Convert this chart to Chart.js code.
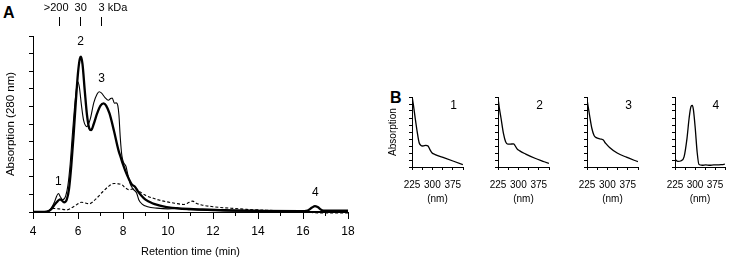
<!DOCTYPE html>
<html><head><meta charset="utf-8">
<script src="https://cdn.jsdelivr.net/npm/chart.js@4.4.1/dist/chart.umd.min.js"></script>
<style>
html,body{margin:0;padding:0;background:#fff}
body{width:734px;height:262px;overflow:hidden;position:relative;font-family:"Liberation Sans",Arial,sans-serif}
canvas{position:absolute}
.panel{position:absolute;font-weight:bold;font-size:16px;line-height:18px;color:#000}
</style></head>
<body>
<div class="panel" style="left:3px;top:4px">A</div>
<div class="panel" style="left:390px;top:89px">B</div>
<canvas id="main" width="370" height="262" style="left:0;top:0;width:370px;height:262px"></canvas>
<canvas id="s1" width="85" height="120" style="left:387px;top:85px;width:85px;height:120px"></canvas>
<canvas id="s2" width="85" height="120" style="left:473px;top:85px;width:85px;height:120px"></canvas>
<canvas id="s3" width="85" height="120" style="left:562px;top:85px;width:85px;height:120px"></canvas>
<canvas id="s4" width="84" height="120" style="left:650px;top:85px;width:84px;height:120px"></canvas>
<script>
// ---------- DATA: chromatogram (A) ----------
const thickTime = [4.0,4.6,4.8,4.95,5.1,5.2,5.28,5.38,5.5,5.6,5.7,5.8,5.9,6.0,6.08,6.13,6.2,6.3,6.4,6.5,6.58,6.7,6.85,7.0,7.14,7.25,7.4,7.6,7.8,7.9,8.0,8.1,8.25,8.4,8.53,8.65,8.8,9.0,9.3,9.6,9.94,10.5,11.4,12.5,14.0,15.9,16.2,16.4,16.53,16.65,16.85,17.0,18.0];
const thickAbs  = [0.0,0.02,0.15,0.4,0.62,0.72,0.66,0.55,0.7,1.3,2.6,4.3,6.2,7.9,8.7,8.82,8.4,6.9,5.5,4.75,4.65,5.0,5.6,6.05,6.17,6.05,5.6,4.6,3.5,3.1,2.7,2.35,1.9,1.55,1.44,1.2,0.95,0.7,0.5,0.38,0.28,0.2,0.15,0.1,0.07,0.05,0.08,0.25,0.33,0.28,0.1,0.08,0.07];

const thinTime = [4.0,4.6,4.8,4.95,5.05,5.13,5.22,5.32,5.45,5.55,5.65,5.75,5.85,5.93,5.99,6.06,6.15,6.25,6.4,6.55,6.7,6.85,6.94,7.05,7.2,7.35,7.45,7.52,7.62,7.7,7.77,7.82,7.88,7.95,8.03,8.13,8.22,8.32,8.45,8.6,8.7,8.85,9.1,9.5,10.0,10.3,10.4,10.5,11.0,12.0,13.0,14.0,16.0,18.0];
const thinAbs  = [0.0,0.02,0.2,0.55,0.9,1.05,0.85,0.7,0.9,1.5,2.7,4.4,6.0,7.0,7.4,7.1,6.1,5.2,4.85,5.3,6.2,6.7,6.83,6.75,6.5,6.35,6.45,6.48,6.18,6.2,6.05,5.5,4.2,3.2,2.8,2.6,2.1,1.6,1.3,1.1,0.7,0.45,0.3,0.22,0.18,0.2,0.24,0.2,0.13,0.08,0.05,0.03,0.02,0.02];

const dashTime = [4.0,4.7,4.9,5.2,5.5,5.8,6.16,6.5,6.8,7.1,7.4,7.6,7.8,7.95,8.1,8.25,8.4,8.55,8.7,9.0,9.3,9.6,9.94,10.3,10.7,10.95,11.1,11.25,11.5,12.0,12.5,13.0,13.5,14.4,15.3,16.0,16.5,17.0,18.0];
const dashAbs  = [0.0,0.05,0.2,0.17,0.12,0.3,0.55,0.47,0.75,1.15,1.5,1.62,1.6,1.55,1.38,1.27,1.3,1.35,1.2,0.95,0.8,0.68,0.58,0.5,0.43,0.55,0.62,0.5,0.4,0.3,0.24,0.2,0.15,0.1,0.06,0.03,-0.04,-0.06,-0.06];

const retentionTicks = [4,6,8,10,12,14,16,18];

// peak numbers (text, retention time, absorption level)
const peakText = ['1','2','3','4'];
const peakTime = [5.13,6.12,7.05,16.55];
const peakLevel = [1.74,9.68,7.59,1.07];

// size markers above chart
const sizeNum  = ['200','30','3'];
const sizePre  = ['>','',''];
const sizePost = ['','',' kDa'];
const sizeTime = [5.17,6.12,7.05];

// ---------- DATA: UV spectra (B) ----------
const spec1Nm  = [226,230,236,244,251,257,265,276,284,290,299,310,344,378,412];
const spec1Abs = [9.9,8.9,7.2,5.05,3.5,3.1,3.0,3.1,3.0,2.55,2.0,1.78,1.3,0.82,0.34];
const spec2Nm  = [226,230,236,245,253,261,270,282,287,295,305,327,361,395,412];
const spec2Abs = [9.6,8.4,7.0,4.8,3.6,3.27,3.27,3.3,3.1,2.6,2.3,1.85,1.25,0.75,0.5];
const spec3Nm  = [226,234,243,251,259,274,285,293,308,336,370,412];
const spec3Abs = [9.4,7.5,5.5,4.5,4.2,4.0,3.85,3.4,2.8,2.0,1.4,0.75];
const spec4Nm  = [225,236,248,259,270,278,285,290,294,301,308,315,327,340,356,370,385,401,412];
const spec4Abs = [1.1,0.8,0.9,1.45,4.1,7.0,8.65,8.8,8.2,5.5,2.15,0.35,0.25,0.3,0.25,0.3,0.3,0.35,0.4];
const specNumber = ['1','2','3','4'];
const specLabelTicks = [225,300,375];

// ---------- drawing ----------
const FONT = '"Liberation Sans", Arial, sans-serif';
Chart.defaults.font.family = FONT;
Chart.defaults.color = '#000';
Chart.defaults.animation = false;

const pts = (xs, ys) => xs.map((x, i) => ({x, y: ys[i]}));
const align = p => Math.round(p - 0.5) + 0.5;

const mainNotes = {
  id: 'mainNotes',
  afterDraw(chart) {
    const {ctx, scales: {x, y}} = chart;
    ctx.save();
    ctx.strokeStyle = '#000';
    ctx.lineWidth = 1;
    // minor ticks
    x.ticks.forEach(t => {
      if (!retentionTicks.includes(t.value)) {
        const px = align(x.getPixelForValue(t.value));
        ctx.beginPath(); ctx.moveTo(px, y.bottom); ctx.lineTo(px, y.bottom + 4); ctx.stroke();
      }
    });
    // peak numbers
    ctx.fillStyle = '#000';
    ctx.font = '12px ' + FONT;
    ctx.textAlign = 'center';
    ctx.textBaseline = 'middle';
    peakText.forEach((s, i) => ctx.fillText(s, x.getPixelForValue(peakTime[i]), y.getPixelForValue(peakLevel[i])));
    // size markers
    ctx.font = '11px ' + FONT;
    ctx.textAlign = 'left';
    sizeNum.forEach((n, i) => {
      const px = x.getPixelForValue(sizeTime[i]);
      const wn = ctx.measureText(n).width, wp = ctx.measureText(sizePre[i]).width;
      ctx.fillText(sizePre[i] + n + sizePost[i], px - wn / 2 - wp, 8);
      const ax = align(px);
      ctx.beginPath(); ctx.moveTo(ax, 17); ctx.lineTo(ax, 26); ctx.stroke();
    });
    ctx.restore();
  }
};

new Chart(document.getElementById('main'), {
  type: 'line',
  data: { datasets: [
    {data: pts(thickTime, thickAbs), borderColor: '#000', borderWidth: 2.3, pointRadius: 0, cubicInterpolationMode: 'monotone', fill: false},
    {data: pts(thinTime, thinAbs), borderColor: '#000', borderWidth: 1.1, pointRadius: 0, cubicInterpolationMode: 'monotone', fill: false},
    {data: pts(dashTime, dashAbs), borderColor: '#000', borderWidth: 1.1, borderDash: [3, 2], pointRadius: 0, cubicInterpolationMode: 'monotone', fill: false, clip: false}
  ]},
  options: {
    responsive: false, animation: false, events: [],
    layout: {padding: {top: 36, right: 22, left: 0, bottom: 0}},
    plugins: {legend: {display: false}, tooltip: {enabled: false}},
    scales: {
      x: {
        type: 'linear', min: 4, max: 18,
        ticks: {stepSize: 1, autoSkip: false, maxRotation: 0, font: {size: 12}, padding: 5,
          callback: v => retentionTicks.includes(v) ? String(v) : ''},
        grid: {drawOnChartArea: false, tickLength: 7, lineWidth: 1,
          tickColor: c => (c.tick && retentionTicks.includes(c.tick.value)) ? '#000' : 'rgba(0,0,0,0)'},
        border: {color: '#000', width: 1},
        title: {display: true, text: 'Retention time (min)', font: {size: 11}, padding: {top: 0, bottom: 3}},
        afterFit: s => { s.height = 50; }
      },
      y: {
        min: 0, max: 10,
        ticks: {stepSize: 1, display: false},
        grid: {drawOnChartArea: false, tickLength: 4, color: '#000', tickColor: '#000'},
        border: {color: '#000', width: 1},
        title: {display: true, text: 'Absorption (280 nm)', font: {size: 11.5}, padding: {top: 4, bottom: 0}},
        afterFit: s => { s.width = 33; }
      }
    }
  },
  plugins: [mainNotes]
});

function spectrum(id, nm, abs, num, showTitle) {
  const numPlugin = {
    id: 'num' + id,
    afterDraw(chart) {
      const {ctx, scales: {x, y}} = chart;
      ctx.save();
      ctx.fillStyle = '#000';
      ctx.font = '12px ' + FONT;
      ctx.textAlign = 'center';
      ctx.textBaseline = 'middle';
      ctx.fillText(num, x.getPixelForValue(378), y.getPixelForValue(8.7));
      ctx.restore();
    }
  };
  new Chart(document.getElementById(id), {
    type: 'line',
    data: {datasets: [{data: pts(nm, abs), borderColor: '#000', borderWidth: 1.3, pointRadius: 0, cubicInterpolationMode: 'monotone', fill: false}]},
    options: {
      responsive: false, animation: false, events: [],
      layout: {padding: {top: 12, right: id === 's4' ? 4 : 5, left: 0, bottom: 0}},
      plugins: {legend: {display: false}, tooltip: {enabled: false}},
      scales: {
        x: {
          type: 'linear', min: 225, max: 412.5,
          ticks: {stepSize: 37.5, autoSkip: false, maxRotation: 0, font: {size: 10}, padding: 9,
            callback: v => specLabelTicks.includes(v) ? String(v) : ''},
          grid: {drawOnChartArea: false, tickLength: 3, color: '#000', tickColor: '#000'},
          border: {color: '#000', width: 1},
          title: {display: true, text: '(nm)', font: {size: 10}, padding: {top: 0, bottom: 0}},
          afterFit: s => { s.height = 38; }
        },
        y: {
          min: 0, max: 10,
          ticks: {stepSize: 1, display: false},
          grid: {drawOnChartArea: false, tickLength: 3, color: '#000', tickColor: '#000'},
          border: {color: '#000', width: 1},
          title: {display: showTitle, text: 'Absorption', font: {size: 10}, padding: {top: 0, bottom: 0}},
          afterFit: s => { s.width = 25; }
        }
      }
    },
    plugins: [numPlugin]
  });
}

spectrum('s1', spec1Nm, spec1Abs, specNumber[0], true);
spectrum('s2', spec2Nm, spec2Abs, specNumber[1], false);
spectrum('s3', spec3Nm, spec3Abs, specNumber[2], false);
spectrum('s4', spec4Nm, spec4Abs, specNumber[3], false);
</script>
</body></html>
